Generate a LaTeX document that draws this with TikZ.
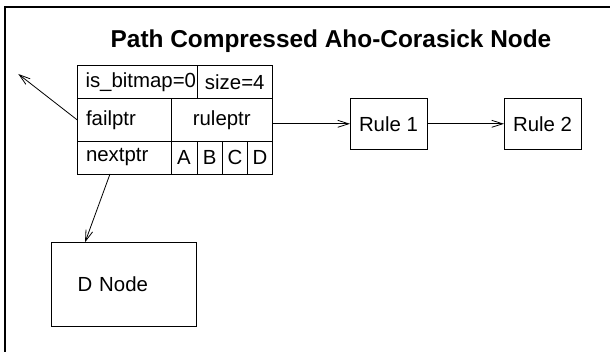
\documentclass[tikz,border=0pt]{standalone}
\usepackage{fontspec}
\setmainfont{Liberation Sans}
\usetikzlibrary{arrows.meta}
\begin{document}
\begin{tikzpicture}[x=1pt,y=-1pt,
  every node/.style={font=\fontsize{20.4}{24}\selectfont},
  cell/.style={draw, line width=0.9pt, anchor=north west, inner sep=0pt, outer sep=0pt},
  lcell/.style={cell, inner xsep=0pt, align=left},
  box/.style={draw, line width=0.9pt, anchor=north west, inner sep=0pt, outer sep=0pt},
  ptr/.style={line width=0.8pt, -{Straight Barb[length=11pt,width=7pt]}}]
\useasboundingbox (0,0) rectangle (610,352);
\draw[line width=1.3pt] (620,7) -- (5,7) -- (5,360);
\node[font=\fontsize{24.4}{28}\selectfont\bfseries, anchor=base] (title) at (331,48) {Path Compressed Aho-Corasick Node};
% row 1
\node[lcell, minimum width=120pt, text width=120pt, minimum height=33.5pt] (bitmap) at (77,65) {\hspace*{8.5pt}is\_bitmap=0};
\node[cell, minimum width=75.5pt, minimum height=33.5pt] (size) at (197,65) {size=4};
% row 2
\node[lcell, minimum width=94pt, text width=94pt, minimum height=42.5pt] (fail) at (77,98.5) {\hspace*{9pt}failptr};
\node[cell, minimum width=101.5pt, minimum height=42.5pt] (rule) at (171,98.5) {ruleptr};
% row 3
\node[lcell, minimum width=94pt, text width=94pt, minimum height=33pt] (next) at (77,141) {\hspace*{9pt}nextptr};
\node[cell, minimum width=26pt, minimum height=33pt] (ca) at (171,141) {A};
\node[cell, minimum width=25.3pt, minimum height=33pt] (cb) at (197,141) {B};
\node[cell, minimum width=25.4pt, minimum height=33pt] (cc) at (222.3,141) {C};
\node[cell, minimum width=24.8pt, minimum height=33pt] (cd) at (247.7,141) {D};
% rules
\node[box, minimum width=77pt, minimum height=51pt] (r1) at (350,98.3) {Rule 1};
\node[box, minimum width=77pt, minimum height=51pt] (r2) at (504,98.3) {Rule 2};
% D node
\node[box, minimum width=145.7pt, text width=145.7pt, align=left, minimum height=84.4pt] (dn) at (51,242.3) {\hspace*{26.7pt}D Node};
% connectors
\coordinate (failend) at (18.3,74);
\draw[ptr] (fail.west) -- (failend);
\draw[ptr] (rule.east |- r1.west) -- (r1.west);
\draw[ptr] (r1.east) -- (r2.west);
\draw[ptr] ([xshift=-14pt]next.south) -- ([xshift=-38.8pt]dn.north);
\end{tikzpicture}
\end{document}
